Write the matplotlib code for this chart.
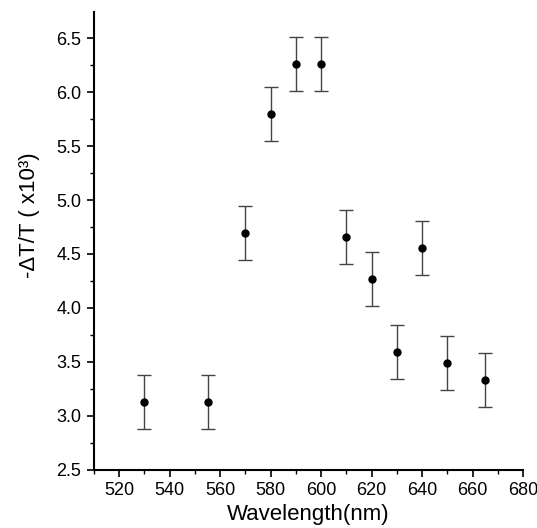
import numpy as np
import matplotlib
matplotlib.use("Agg")
import matplotlib.pyplot as plt
from matplotlib.ticker import MultipleLocator

# dados
comprimento = [530, 555, 570, 580, 590, 600, 610, 620, 630, 640, 650, 665]
sinal = [3.13, 3.13, 4.69, 5.80, 6.26, 6.26, 4.66, 4.27, 3.59, 4.56, 3.49, 3.33]
erro = [0.25] * len(sinal)

plt.rcParams["font.family"] = ["Liberation Sans", "DejaVu Sans"]

fig = plt.figure(figsize=(5.37, 5.28), dpi=100)
ax = fig.add_axes([0.175, 0.110, 0.799, 0.867])

ax.errorbar(comprimento, sinal, yerr=erro, fmt="o", color="black", markersize=5,
            ecolor="#444444", elinewidth=1, capsize=5, capthick=1)

ax.set_xlim(510, 680)
ax.set_ylim(2.5, 6.74)
ax.xaxis.set_major_locator(MultipleLocator(20))
ax.xaxis.set_minor_locator(MultipleLocator(10))
ax.yaxis.set_major_locator(MultipleLocator(0.5))
ax.yaxis.set_minor_locator(MultipleLocator(0.25))
ax.tick_params(which="major", direction="out", length=5, width=1.2, labelsize=13, pad=4)
ax.tick_params(which="minor", direction="out", length=3, width=1)

ax.spines["top"].set_visible(False)
ax.spines["right"].set_visible(False)
ax.spines["left"].set_linewidth(1.5)
ax.spines["bottom"].set_linewidth(1.5)

ax.set_xlabel("Wavelength(nm)", fontsize=16, labelpad=3)
ax.set_ylabel("-\u0394T/T ( x10\u00b3)", fontsize=16)
ax.yaxis.set_label_coords(-0.125, 0.557)

fig.savefig("out.png", dpi=100)
